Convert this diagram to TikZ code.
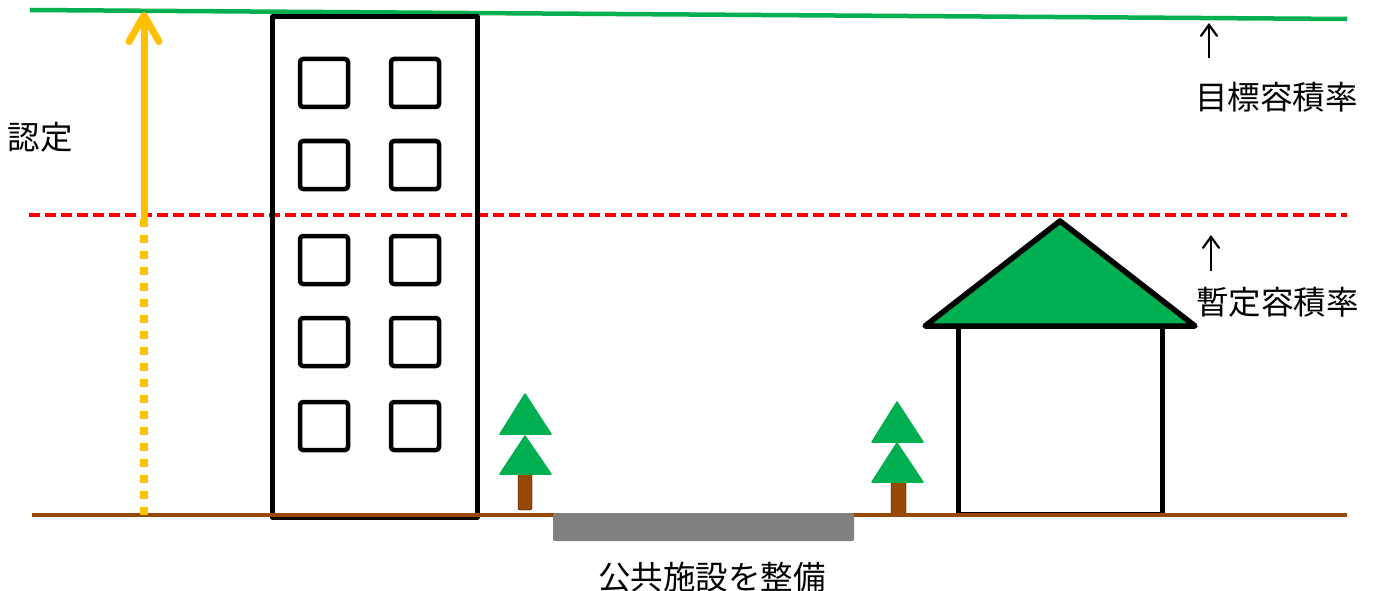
\documentclass[tikz,border=0pt]{standalone}
\usepackage{fontspec}
\newfontfamily\jpfont{Noto Sans CJK JP}
\usetikzlibrary{arrows.meta}
\definecolor{leaf}{HTML}{00B050}
\definecolor{amber}{HTML}{FFC000}
\definecolor{soil}{HTML}{984807}
\definecolor{pave}{HTML}{808080}
\tikzset{
  label/.style={font=\jpfont\fontsize{32.5}{38}\selectfont, inner sep=0pt, text=black},
  window/.style={draw=black, line width=4.5pt, rounded corners=3pt},
  wall/.style={draw=black, line width=5pt},
  treepart/.style={fill=leaf, draw=leaf, line width=1.5pt, line join=round},
  trunk/.style={fill=soil, rounded corners=2pt},
  lvmark/.style={line width=2.2pt, -{Straight Barb[length=11pt,width=16pt,line cap=round]}},
}
\begin{document}
\begin{tikzpicture}[x=1pt,y=-1pt,line join=round]
\useasboundingbox (0,0) rectangle (1378,591);

% target floor-area-ratio line
\coordinate (tl) at (30,10);
\coordinate (tr) at (1347,19);
\draw[leaf, line width=4.5pt] (tl) -- (tr);

% provisional floor-area-ratio line
\coordinate (pl) at (29,215);
\coordinate (pr) at (1347,215);
\draw[red, line width=3.5pt, dash pattern=on 11pt off 5pt] (pl) -- (pr);

% apartment building
\draw[wall] (272,17) rectangle (477,517);
\foreach \y in {59,141,236,318,402}{
  \draw[window] (300,\y) rectangle ++(48,48);
  \draw[window] (391,\y) rectangle ++(48,48);
}

% house
\draw[wall] (958,514) -- (958,326) -- (1162,326) -- (1162,514) -- cycle;
\draw[fill=leaf, draw=black, line width=5.5pt] (925,326) -- (1060,221) -- (1195,326) -- cycle;

% trees
\draw[trunk] (518,472) rectangle (532,510);
\draw[treepart] (500,474) -- (525,436) -- (551,474) -- cycle;
\draw[treepart] (500,434) -- (525,394) -- (551,434) -- cycle;
\draw[trunk] (891,480) rectangle (906,515);
\draw[treepart] (872,482) -- (897,443) -- (923,482) -- cycle;
\draw[treepart] (872,442) -- (897,402) -- (923,442) -- cycle;

% ground and public facility
\coordinate (gl) at (32,515);
\coordinate (gr) at (1347,515);
\draw[soil, line width=4.5pt] (gl) -- (gr);
\fill[pave, rounded corners=2pt] (553,513) rectangle (854,541);

% certified increase
\coordinate (ab) at (144,515);
\coordinate (am) at (144,218);
\coordinate (at) at (144,12);
\draw[amber, line width=8pt, dash pattern=on 8pt off 8pt] (ab) -- (am);
\draw[amber, line width=7pt, line cap=round,
      -{Straight Barb[length=26pt,width=30pt,line cap=round,line join=round]}] (am) -- (at);

% labels
\node[label] (nintei) at (40,137) {認定};
\node[label] (koukyo) at (712,577) {公共施設を整備};
\node[label, anchor=west] (mokuhyo) at (1195,97) {目標容積率};
\node[label, anchor=west] (zantei) at (1196,302) {暫定容積率};
\coordinate (m1) at (1209,58);
\coordinate (m2) at (1209,23);
\draw[lvmark] (m1) -- (m2);
\coordinate (z1) at (1211,271);
\coordinate (z2) at (1211,235);
\draw[lvmark] (z1) -- (z2);
\end{tikzpicture}
\end{document}
